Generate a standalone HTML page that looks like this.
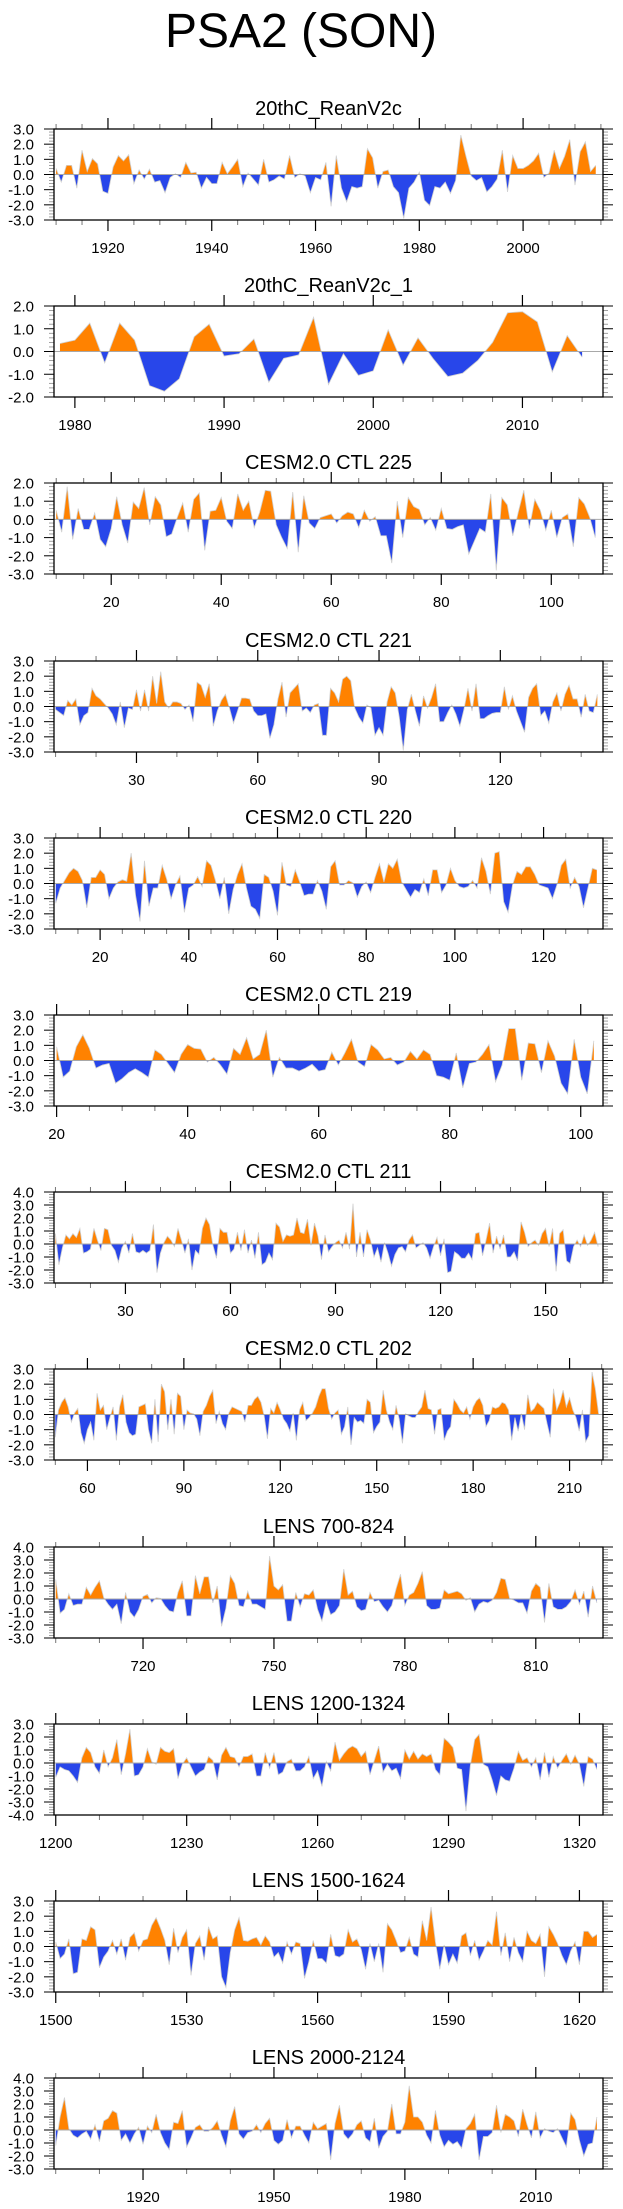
<!DOCTYPE html>
<html>
<head>
<meta charset="utf-8">
<style>
html,body{margin:0;padding:0;background:#fff;}
svg{display:block;}
text{font-family:"Liberation Sans",Arial,sans-serif;fill:#000;}
</style>
</head>
<body>
<svg id="chart" width="623" height="2209" viewBox="0 0 623 2209" xmlns="http://www.w3.org/2000/svg">
<text x="301" y="47" font-size="48" text-anchor="middle">PSA2 (SON)</text>
</svg>
<script>
// ---- data ----
const titles = ["20thC_ReanV2c","20thC_ReanV2c_1","CESM2.0 CTL 225","CESM2.0 CTL 221","CESM2.0 CTL 220","CESM2.0 CTL 219","CESM2.0 CTL 211","CESM2.0 CTL 202","LENS 700-824","LENS 1200-1324","LENS 1500-1624","LENS 2000-2124"];
const starts = [1910,1979,10,10,10,20,10,50,700,1200,1500,1900];
const yRanges = [[-3,3],[-2,2],[-3,2],[-3,3],[-3,3],[-3,3],[-3,4],[-3,3],[-3,4],[-4,3],[-3,3],[-3,4]];
const tickLabels = [[1920,1940,1960,1980,2000],[1980,1990,2000,2010],[20,40,60,80,100],[30,60,90,120],[20,40,60,80,100,120],[20,40,60,80,100],[30,60,90,120,150],[60,90,120,150,180,210],[720,750,780,810],[1200,1230,1260,1290,1320],[1500,1530,1560,1590,1620],[1920,1950,1980,2010]];
const minorSteps = [5,2,5,10,5,5,10,10,10,10,10,10];

const s1 = [0.4,-0.5,0.6,0.6,-0.9,1.6,0.2,1.05,0.7,-1.1,-1.25,0.5,1.25,0.9,1.3,-0.6,0.3,-0.3,0.35,-0.5,-0.4,-1.2,-0.2,0.05,-0.2,0.8,0.1,0.15,-0.9,-0.2,-0.6,-0.6,0.8,0.05,0.5,1.0,-0.8,0.1,-0.3,-0.7,1.0,-0.5,-0.35,-0.1,-0.3,1.25,-0.2,0.05,-0.1,-1.2,-0.2,-0.35,0.8,-2.1,1.25,-0.9,-1.8,-0.8,-0.9,-0.8,1.7,1.1,-0.9,0.2,0.3,-0.8,-1.2,-2.9,-0.9,-0.5,0.15,-1.7,-2.05,-0.8,-0.9,-0.5,-1.25,-0.4,2.6,1.2,-0.1,-0.4,-0.2,-1.15,-0.8,-0.3,1.6,-1.15,1.25,0.4,0.4,0.6,0.9,1.4,-0.2,0.1,1.6,0.4,1.2,2.3,-0.7,1.5,2.15,0.2,0.6];
const s2 = [0.35,0.5,1.25,-0.5,1.25,0.5,-1.5,-1.75,-1.2,0.65,1.2,-0.2,-0.1,0.55,-1.35,-0.3,-0.15,1.5,-1.45,-0.1,-1.05,-0.85,0.95,-0.6,0.6,-0.3,-1.1,-0.95,-0.4,0.4,1.7,1.75,1.3,-0.9,0.7,-0.25];
const s3 = [0.5,-0.7,1.8,-1.1,0.6,-0.55,-0.55,0.35,-1.1,-1.5,-0.5,1.25,-0.3,-1.3,0.95,0.6,1.75,-0.3,1.25,0.8,-0.95,-0.8,0.1,0.9,-0.7,1.1,1.45,-1.7,0.45,0.5,1.2,-0.1,-0.5,1.4,0.5,1.0,-0.45,0.4,1.6,1.55,-0.3,-1.0,-1.6,1.5,-1.8,1.3,-0.2,-0.5,0.1,0.2,0.3,-0.2,0.2,0.4,0.3,-0.45,0.5,-0.1,0.15,-0.9,-0.9,-2.4,1.0,-1.0,1.2,0.7,0.55,-0.3,0.1,-0.6,0.6,-0.5,-0.55,-0.4,-0.3,-1.9,-1.2,-0.5,-0.7,1.4,-2.8,1.2,0.8,-0.9,0.4,1.6,-0.5,1.1,0.5,-0.6,0.5,-1.0,0.1,0.3,-1.5,1.2,0.85,0.1,-1.0];
const s4 = [-0.2,-0.4,-0.6,0.4,0.1,0.5,-1.2,-0.6,-0.4,1.2,0.7,0.5,0.2,-0.1,-0.5,-1.2,0.3,-1.4,-0.1,-0.2,1.1,-0.3,1.1,-0.3,2.0,0.2,2.3,0.3,-0.1,0.3,0.3,0.2,-0.2,0.1,-1.0,1.6,1.4,0.6,1.5,-1.3,-0.3,0.4,0.8,-0.1,-1.1,-0.3,0.55,0.55,0.5,-0.3,-0.6,-0.6,-0.5,-2.1,-1.2,0.5,1.6,-0.7,0.9,1.2,1.5,-0.3,-0.1,-0.4,0.1,0.2,-1.9,-1.9,1.2,0.9,0.3,1.8,2.0,1.7,-0.1,-0.7,-1.1,0.1,-0.1,-1.9,-1.4,-1.9,0.3,1.3,0.9,-0.7,-2.9,-0.2,0.8,-0.3,-1.3,0.7,-0.1,0.6,1.5,-1.0,-1.0,-0.4,0.1,-0.5,-1.3,-0.2,1.2,-0.3,1.5,-0.8,-0.8,-0.6,-0.45,-0.4,-0.4,1.3,-0.2,0.7,-0.3,-1.0,-1.7,0.6,1.2,1.5,-0.6,-0.3,-1.1,0.3,0.9,-0.3,0.8,1.4,0.5,0.5,-0.7,0.8,-0.3,-0.4,0.8];
const s5 = [-1.3,-0.3,0.2,0.7,1.0,0.8,0.2,-1.6,0.4,0.4,0.9,0.6,-1.0,-0.3,0.1,0.25,0.15,2.0,-0.8,-2.5,1.5,-1.5,-0.3,-0.3,1.2,0.3,-1.0,-0.1,0.5,-1.9,-0.3,-0.1,0.45,-0.2,1.5,1.2,0.2,-1.0,0.4,-2.0,-0.4,0.6,1.3,-0.3,-1.5,-1.7,-2.3,0.6,0.4,-0.5,-2.1,1.4,-0.1,-0.2,0.9,0.1,-0.8,-0.7,-0.7,0.2,-0.5,-1.7,1.1,1.5,-0.1,-0.1,0.2,0.05,-0.9,-0.2,0.1,-0.6,0.4,1.3,0.1,1.3,1.0,1.6,0.1,-0.4,-0.9,-0.4,-0.6,0.3,-0.8,0.9,0.9,-0.6,-0.1,1.0,0.2,-0.2,-0.3,-0.2,0.2,-0.3,1.7,0.8,-0.7,2.0,2.1,-1.2,-1.9,-0.1,0.8,0.6,1.1,1.1,0.6,-0.1,-0.2,-0.3,-1.0,-0.1,1.2,1.6,-0.3,0.4,-0.2,-1.6,-0.3,1.0,0.9];
const s6 = [0.9,-1.1,-0.7,0.9,1.7,0.8,-0.5,-0.3,-0.2,-1.5,-1.2,-0.8,-0.55,-0.8,-1.1,0.7,0.4,-0.2,-0.8,0.4,1.05,0.8,0.75,-0.1,0.2,-0.3,-0.9,0.8,0.4,1.5,0.1,0.4,2.0,-1.1,0.2,-0.5,-0.5,-0.7,-0.5,-0.25,-0.7,-0.6,0.55,-0.3,0.5,1.4,-0.1,-0.4,1.05,0.7,0.1,0.2,-0.3,-0.1,0.6,0.1,0.7,0.4,-1.0,-1.1,-1.3,0.5,-1.8,-0.2,-0.1,0.4,1.05,-1.4,-0.3,2.1,2.1,-1.3,1.15,1.1,-0.8,1.3,0.3,-1.5,-2.2,1.4,-1.1,-2.2,1.3];
const s7 = [0.8,-1.6,-0.3,0.7,0.4,0.8,0.5,1.2,-0.7,-0.6,-0.4,1.2,0.3,-0.5,1.2,1.1,-0.1,-0.5,-1.4,-0.3,0.2,-0.7,0.8,-0.6,-0.7,-0.5,-0.7,-0.5,1.5,-2.2,-0.7,0.1,0.6,0.3,-0.2,1.2,0.3,-0.7,0.4,-2.0,-0.5,-0.8,1.2,2.0,1.5,-0.1,-1.1,1.2,0.9,0.9,-0.7,-0.4,0.9,-0.5,1.1,-0.7,0.3,-1.1,0.9,-1.6,-1.4,-0.7,-1.2,1.6,1.3,0.2,0.7,0.6,0.7,2.0,0.9,0.8,1.9,-0.1,1.6,0.6,-1.2,0.7,-0.6,-0.2,0.1,0.3,-0.3,0.9,-0.4,3.1,-1.0,0.9,-1.0,1.1,0.3,-1.0,-0.3,-1.4,0.1,-0.7,-1.7,-0.8,-0.3,-0.2,-0.6,0.3,0.7,-0.3,-0.1,0.1,-0.3,-1.1,-0.2,0.5,-0.9,0.4,-2.2,-2.1,-0.6,-0.8,-1.1,-1.1,-0.7,-1.2,0.8,0.9,-0.9,0.3,1.6,-0.7,0.6,-0.4,0.7,-1.0,-1.0,-0.6,-1.3,1.7,0.9,-0.2,0.1,0.3,-0.1,0.8,1.2,-0.2,1.2,-2.1,0.8,1.1,-1.3,-1.5,-0.2,0.3,-0.2,0.7,-0.1,0.3,0.9,-0.2];
const s8 = [-1.5,0.3,0.8,1.1,0.5,-0.5,0.1,0.4,-1.2,-1.9,-1.0,-0.5,-1.7,1.4,0.3,0.6,-1.0,-0.2,0.5,-1.7,0.5,1.3,-0.5,-1.2,-1.4,-1.3,0.5,0.6,0.7,-1.0,-1.9,1.0,-1.8,2.0,1.5,-1.0,1.0,-1.3,1.4,1.2,-1.0,0.3,0.1,0.05,-0.3,-1.4,0.2,0.6,1.2,1.6,-0.6,0.2,-0.6,-1.0,0.1,0.5,0.4,0.3,0.2,-0.5,0.6,0.6,1.0,1.2,0.8,-0.1,-1.6,0.4,0.1,0.8,0.3,-0.3,-0.6,-1.1,0.1,-1.7,0.3,0.8,-0.4,-0.2,0.1,0.5,1.2,1.7,1.7,0.4,-0.3,0.1,0.3,-1.3,-0.8,0.5,-2.0,-0.2,-0.5,-0.4,-0.6,1.0,0.8,-1.2,-0.8,-0.5,1.6,0.3,-0.5,-1.0,0.6,-0.3,-1.9,0.05,-0.1,-0.2,-0.2,0.2,0.5,1.6,0.4,0.3,-1.3,0.3,0.4,-1.7,-1.1,-0.8,1.0,0.7,0.3,0.1,0.5,-0.3,0.5,0.9,1.1,0.6,-0.8,-0.4,0.5,0.4,0.5,0.8,0.7,0.3,-1.7,-0.2,-1.1,0.05,-1.0,1.3,0.2,0.4,0.8,0.6,0.4,-0.6,-1.5,1.7,0.3,0.8,1.6,0.5,1.1,0.3,-0.2,-1.1,0.3,-1.8,-1.4,2.8,1.7,0.1];
const s9 = [1.5,-1.1,-0.8,0.4,-0.5,-0.4,-0.4,0.9,0.3,0.9,1.4,0.1,-0.4,-0.8,-0.4,-1.9,0.5,-1.0,-1.4,-0.8,0.2,0.35,-0.3,0.1,0.05,-0.5,-0.9,-1.0,0.5,1.4,-1.3,-1.3,1.8,0.4,1.7,1.7,-0.3,1.0,-2.1,-0.7,1.8,1.2,-0.5,-0.6,0.6,-0.4,-0.4,-0.6,-0.8,3.3,1.0,0.7,1.1,-1.7,-1.7,0.5,-0.6,0.4,0.3,0.7,-0.8,-1.7,-0.2,-1.2,-1.0,-0.5,2.3,0.3,0.6,-0.6,-0.9,-0.8,0.5,-0.2,-0.1,-0.6,-1.0,-0.5,0.8,1.9,-0.5,0.3,0.5,1.2,2.1,-0.5,-0.8,-0.8,-0.7,0.7,0.4,0.5,0.6,0.4,-0.1,0.1,-1.0,-0.4,-0.2,-0.3,-0.1,0.5,1.6,1.5,0.05,-0.1,-0.3,-0.3,-1.1,0.6,1.2,0.9,-1.8,1.2,-0.6,-0.8,-0.8,-0.6,-0.2,0.7,-0.4,0.6,-1.4,1.0,-0.3];
const s10 = [-1.1,-0.3,-0.5,-0.6,-1.0,-1.5,0.4,1.2,0.8,-0.3,-0.8,1.0,-0.3,0.4,1.8,-0.9,0.7,2.6,-1.0,-0.9,-0.3,1.1,0.1,-0.1,1.2,0.9,0.8,1.1,-1.2,-0.1,0.4,-0.3,-1.0,-0.7,-0.5,0.5,0.2,-1.3,0.6,1.2,0.5,0.4,-0.3,0.5,0.5,0.7,-1.0,-1.0,0.8,-0.4,0.8,-0.9,-0.7,0.1,0.3,-0.6,-0.6,-0.3,0.5,-1.2,-0.6,-1.8,0.1,-0.6,1.6,0.2,0.7,1.1,1.3,1.1,0.5,0.9,-0.9,0.2,1.3,-0.7,-0.1,-0.6,-0.4,-1.2,1.0,0.3,0.9,0.3,0.7,0.5,0.7,-0.5,-0.9,1.9,1.6,1.2,-0.4,-0.5,-3.7,-0.2,1.8,2.2,-0.1,-0.3,-1.3,-2.5,-1.0,-1.3,-1.4,-0.4,0.9,0.2,0.4,-0.3,0.4,-1.3,0.8,-1.1,0.5,-0.4,0.2,0.7,-0.1,0.6,-0.1,-1.8,0.5,0.3,-0.5];
const s11 = [0.3,-0.8,-0.5,0.5,-1.8,-1.7,0.5,0.4,1.3,1.1,-1.4,-0.7,-0.3,0.4,-0.5,0.5,-0.9,0.6,0.9,-0.3,0.4,0.5,1.4,1.9,1.2,0.4,-1.2,1.2,-0.4,0.6,1.1,-1.9,0.2,0.7,-0.9,1.3,0.5,0.7,-2.0,-2.7,-0.4,1.1,1.9,0.4,0.35,0.5,0.6,0.1,0.7,0.3,-0.7,-0.4,-1.1,0.3,-0.5,0.3,0.2,-2.1,-1.0,0.4,-0.8,-0.8,-1.1,0.8,-0.6,-0.7,-0.5,1.1,0.3,0.5,-0.2,-1.5,0.2,-1.0,0.2,-1.7,1.5,1.1,0.4,-0.4,-0.3,0.6,-0.5,-0.7,1.7,0.4,2.6,0.3,-1.5,0.1,-1.2,-0.5,-1.1,0.7,0.9,-0.6,0.4,-0.9,-0.3,0.4,0.1,2.3,-0.6,0.9,-1.0,0.6,-0.4,-1.0,1.0,0.4,0.2,0.8,-2.0,1.3,0.8,0.2,-0.6,-1.2,-0.3,0.3,-1.2,1.0,1.0,0.6,0.8];
const s12 = [-1.2,1.0,2.5,0.1,-0.4,-0.6,-0.3,-0.1,-0.7,0.4,-0.9,0.7,0.9,1.5,1.3,-0.8,-0.3,-1.0,-0.3,0.2,-1.1,0.3,-0.2,1.2,-0.2,-1.0,-1.5,0.6,0.5,1.5,-1.3,-0.6,0.2,0.4,-0.1,-0.1,0.2,0.7,-0.4,-1.3,0.7,1.8,-0.3,-0.7,-0.2,-0.1,0.4,-0.2,0.5,0.9,-0.8,-1.1,-0.8,0.8,-0.6,0.3,0.3,-0.4,-1.0,0.6,0.1,0.3,0.5,-2.3,0.5,1.9,-0.3,-0.7,-0.3,0.4,0.7,-0.6,-0.9,0.9,-1.4,-0.5,-0.1,2.0,-0.3,-0.3,0.6,3.4,1.0,1.0,0.6,-0.4,-1.0,1.5,-0.4,-1.3,-0.8,-1.1,-0.9,-1.4,0.1,0.5,1.2,-2.3,-0.5,-0.5,-0.2,1.9,-0.2,1.2,1.0,0.7,-0.5,1.6,0.4,-0.6,1.4,-0.6,0.1,-0.1,-0.2,0.1,-0.6,-1.3,1.3,0.8,-0.8,-2.0,-1.1,-1.0,1.0];
const series = [s1,s2,s3,s4,s5,s6,s7,s8,s9,s10,s11,s12];

// ---- layout ----
const NS = "http://www.w3.org/2000/svg";
const svg = document.getElementById('chart');
const BOX_L = 54, BOX_R = 603, BOX_H = 91, FIRST_TOP = 129, STEP = 177.2;
function mk(tag, attrs, parent) {
  const e = document.createElementNS(NS, tag);
  for (const k in attrs) e.setAttribute(k, attrs[k]);
  (parent || svg).appendChild(e);
  return e;
}

series.forEach((vals, p) => {
  const top = Math.round(FIRST_TOP + p * STEP);
  const bot = top + BOX_H;
  const [ymin, ymax] = yRanges[p];
  const start = starts[p];
  const end = start + vals.length - 1;
  const dmin = start - 0.4, dmax = end + 1.4;
  const xs = v => BOX_L + (v - dmin) / (dmax - dmin) * (BOX_R - BOX_L);
  const ys = v => bot - (v - ymin) / (ymax - ymin) * BOX_H;
  const zy = ys(0);

  const g = mk('g', {});
  
  

  const t = mk('text', {x: (BOX_L + BOX_R) / 2, y: top - 14, 'font-size': 20, 'text-anchor': 'middle'}, g);
  
  
  t.textContent = titles[p];

  // clip paths
  const cidU = 'cu' + p, cidD = 'cd' + p;
  const cu = mk('clipPath', {id: cidU}, g);
  mk('rect', {x: BOX_L, y: top, width: BOX_R - BOX_L, height: zy - top}, cu);
  const cd = mk('clipPath', {id: cidD}, g);
  mk('rect', {x: BOX_L, y: zy, width: BOX_R - BOX_L, height: bot - zy}, cd);

  let pts = vals.map((v, i) => xs(start + i).toFixed(2) + ',' + ys(v).toFixed(2));
  const area = 'M' + xs(start).toFixed(2) + ',' + zy + ' L' + pts.join(' L') + ' L' + xs(end).toFixed(2) + ',' + zy + ' Z';
  const pos = mk('path', {d: area, fill: '#FF8200', 'clip-path': 'url(#' + cidU + ')'}, g);
  
  
  const neg = mk('path', {d: area, fill: '#2846EA', 'clip-path': 'url(#' + cidD + ')'}, g);
  
  
  const ln = mk('polyline', {points: pts.join(' '), fill: 'none', stroke: '#d0d0d0', 'stroke-width': 0.8}, g);
  
  
  const zl = mk('line', {x1: BOX_L, x2: BOX_R, y1: zy, y2: zy, stroke: '#a8a8a8', 'stroke-width': 1}, g);
  
  

  // y ticks
  for (let k = Math.round(ymin * 5); k <= Math.round(ymax * 5); k++) {
    const v = k / 5, y = ys(v), major = (k % 5 === 0);
    const len = major ? 10 : 5;
    mk('line', {x1: BOX_L - len, x2: BOX_L, y1: y, y2: y, stroke: major ? '#000' : '#888', 'stroke-width': major ? 1 : 0.8}, g);
    mk('line', {x1: BOX_R, x2: BOX_R + len, y1: y, y2: y, stroke: major ? '#000' : '#888', 'stroke-width': major ? 1 : 0.8}, g);
    if (major) {
      const yl = mk('text', {x: 34, y: y + 5.5, 'font-size': 15, 'text-anchor': 'end'}, g);
      
      
      yl.textContent = v.toFixed(1);
    }
  }
  // x ticks
  const ms = minorSteps[p];
  for (let v = Math.ceil(dmin / ms) * ms; v <= dmax; v += ms) {
    const x = xs(v), major = tickLabels[p].includes(v);
    const len = major ? 11 : 5;
    mk('line', {x1: x, x2: x, y1: top - len, y2: top, stroke: major ? '#000' : '#666', 'stroke-width': major ? 1.2 : 0.9}, g);
    mk('line', {x1: x, x2: x, y1: bot, y2: bot + len, stroke: major ? '#000' : '#666', 'stroke-width': major ? 1.2 : 0.9}, g);
  }
  tickLabels[p].forEach(v => {
    const xl = mk('text', {x: xs(v), y: bot + 33, 'font-size': 15, 'text-anchor': 'middle'}, g);
    
    
    xl.textContent = v;
  });
  const box = mk('rect', {x: BOX_L, y: top, width: BOX_R - BOX_L, height: BOX_H, fill: 'none', stroke: '#000', 'stroke-width': 1.3}, g);
  
  
});
</script>
</body>
</html>
